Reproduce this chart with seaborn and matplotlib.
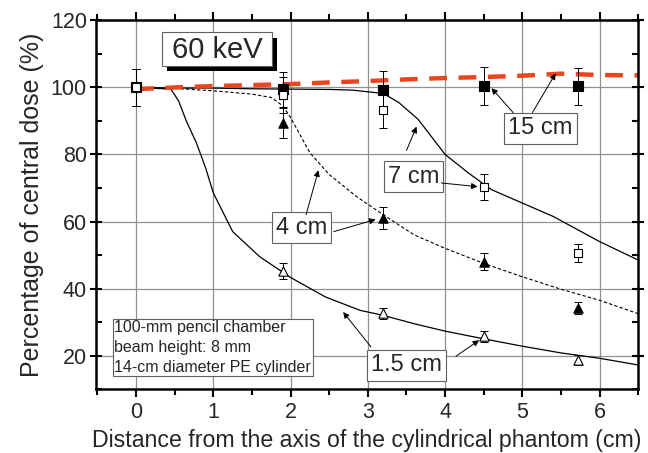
import numpy as np
import pandas as pd
import matplotlib
matplotlib.use("Agg")
import matplotlib.pyplot as plt
import seaborn as sns
from matplotlib.ticker import MultipleLocator
from matplotlib.patches import Rectangle

sns.set_theme(style="white")
plt.rcParams['font.family'] = ['Liberation Sans', 'DejaVu Sans']

# ---- measured points (markers) ----
meas_x = [0.0, 1.9, 3.2, 4.5, 5.72]
sq15 = [100.0, 99.4, 99.3, 100.5, 100.4]
sq15_err = [5.6, 5.3, 5.5, 5.6, 5.5]
sq7 = [100.0, 97.7, 93.2, 70.3, 50.6]
sq7_err = [5.6, 5.3, 5.2, 3.8, 2.8]
tri4 = [100.0, 89.5, 61.0, 48.0, 34.2]
tri4_err = [5.6, 4.5, 3.2, 2.5, 1.7]
tri15 = [100.0, 45.2, 32.6, 25.7, 18.7]
tri15_err = [5.6, 2.4, 1.7, 1.6, 1.4]

# ---- calculated curves ----
c15_x = [0, 0.5, 1, 1.5, 2, 2.5, 3, 3.5, 4, 4.5, 5, 5.5, 6, 6.5]
c15_y = [99.5, 100.0, 100.4, 100.7, 101.0, 101.5, 101.9, 102.4, 102.8, 103.1, 103.5, 104.1, 103.7, 103.6]

c7_x = [0, 0.5, 1, 1.5, 2, 2.5, 2.8, 3.2, 3.4, 3.65, 4.0, 4.3, 4.6, 5.0, 5.4, 5.8, 6.0, 6.5]
c7_y = [100, 99.8, 99.8, 99.6, 99.5, 99.4, 99.2, 98.2, 95.5, 90.5, 80.0, 74.5, 69.5, 65.5, 61.5, 56.5, 54.0, 48.5]

c4_x = [0, 0.5, 1, 1.5, 1.75, 1.9, 2.0, 2.25, 2.5, 2.85, 3.2, 3.6, 4, 4.5, 5, 5.5, 6, 6.5]
c4_y = [100, 99.7, 99.0, 98.0, 97.0, 94.5, 91.0, 80.5, 74.0, 67.5, 62.0, 56.0, 52.0, 47.5, 43.5, 39.8, 36.5, 32.5]

c1_x = [0, 0.45, 0.55, 0.65, 0.78, 0.9, 1.0, 1.25, 1.6, 2.0, 2.45, 2.9, 3.2, 3.6, 4, 4.5, 5, 5.5, 6, 6.5]
c1_y = [100, 99.5, 96.0, 90.0, 83.5, 76.0, 68.5, 57.0, 49.5, 43.3, 37.5, 33.5, 32.0, 29.5, 27.3, 25.0, 22.8, 20.8, 19.2, 17.2]

x_ticks = [0, 1, 2, 3, 4, 5, 6]
y_ticks = [20, 40, 60, 80, 100, 120]

fig = plt.figure(figsize=(6.48, 4.53), dpi=100)
ax = fig.add_axes([0.148, 0.141, 0.837, 0.814])

# grid
ax.set_axisbelow(True)
ax.grid(True, which='major', color='#909090', lw=0.9)

# curves
sns.lineplot(x=c1_x, y=c1_y, ax=ax, color='black', lw=0.9, sort=False)
sns.lineplot(x=c7_x, y=c7_y, ax=ax, color='black', lw=0.9, sort=False)
sns.lineplot(x=c4_x, y=c4_y, ax=ax, color='black', lw=0.8, sort=False,
             linestyle=(0, (3, 2)))
sns.lineplot(x=c15_x, y=c15_y, ax=ax, color='#e8461e', lw=3.2, sort=False,
             linestyle=(0, (4, 2.6)))

# error bars + markers
def pts(y, err, marker, face, s=45):
    ax.errorbar(meas_x, y, yerr=err, fmt='none', ecolor='black', elinewidth=0.7,
                capsize=3, capthick=0.7, zorder=3)
    sns.scatterplot(x=meas_x, y=y, ax=ax, marker=marker, s=s, color=face,
                    edgecolor='black', linewidth=0.8, zorder=4)

pts(tri4, tri4_err, '^', 'black')
pts(sq15, sq15_err, 's', 'black')
pts(tri15, tri15_err, '^', 'white')
pts(sq7, sq7_err, 's', 'white', s=40)

ax.set_xlim(-0.52, 6.5)
ax.set_ylim(10, 120)
ax.set_xticks(x_ticks)
ax.set_yticks(y_ticks)
ax.xaxis.set_minor_locator(MultipleLocator(0.5))
ax.yaxis.set_minor_locator(MultipleLocator(10))
ax.tick_params(which='both', direction='out', labelsize=15.5, top=True, right=True,
               bottom=True, left=True, color='black')
ax.tick_params(which='major', length=6, width=1.5)
ax.tick_params(which='minor', length=4, width=1.5)
ax.tick_params(axis='y', which='major', direction='inout', length=9, pad=2)
ax.tick_params(axis='y', which='minor', direction='in', length=4)
ax.tick_params(axis='y', which='both', right=True)
for s in ax.spines.values():
    s.set_color('black')
    s.set_linewidth(1.8)

ax.set_xlabel('Distance from the axis of the cylindrical phantom (cm)', fontsize=16.7, labelpad=4)
ax.set_ylabel('Percentage of central dose (%)', fontsize=18, labelpad=5)

# 60 keV box with shadow
ax.add_patch(Rectangle((0.40, 105.0), 1.42, 9.6, facecolor='black', edgecolor='none', zorder=5))
ax.add_patch(Rectangle((0.34, 106.4), 1.42, 10.0, facecolor='white', edgecolor='#606060',
                       lw=0.8, zorder=6))
ax.text(1.05, 111.3, '60 keV', fontsize=21, ha='center', va='center', zorder=7)

lab_bbox = dict(boxstyle='square,pad=0.18', fc='white', ec='#606060', lw=0.8)
ap = dict(arrowstyle='-|>', color='black', lw=0.7, mutation_scale=9, shrinkA=0, shrinkB=0)

ax.text(5.23, 87.8, '15 cm', fontsize=17, ha='center', va='center', bbox=lab_bbox, zorder=6)
ax.annotate('', xy=(4.6, 99.8), xytext=(4.88, 92.5), arrowprops=ap, zorder=6)
ax.annotate('', xy=(5.43, 104.2), xytext=(5.13, 92.5), arrowprops=ap, zorder=6)

ax.text(3.59, 73.4, '7 cm', fontsize=17, ha='center', va='center', bbox=lab_bbox, zorder=6)
ax.annotate('', xy=(3.63, 88.3), xytext=(3.5, 81.2), arrowprops=ap, zorder=6)
ax.annotate('', xy=(4.42, 70.4), xytext=(3.95, 71.5), arrowprops=ap, zorder=6)

ax.text(2.14, 58.2, '4 cm', fontsize=17, ha='center', va='center', bbox=lab_bbox, zorder=6)
ax.annotate('', xy=(2.36, 75.3), xytext=(2.2, 62.0), arrowprops=ap, zorder=6)
ax.annotate('', xy=(3.1, 60.6), xytext=(2.56, 57.0), arrowprops=ap, zorder=6)

ax.text(3.5, 17.1, '1.5 cm', fontsize=17, ha='center', va='center', bbox=lab_bbox, zorder=6)
ax.annotate('', xy=(2.68, 33.0), xytext=(3.04, 22.6), arrowprops=ap, zorder=6)
ax.annotate('', xy=(4.44, 24.6), xytext=(4.14, 19.8), arrowprops=ap, zorder=6)

ax.text(-0.28, 22.4, '100-mm pencil chamber\nbeam height: 8 mm\n14-cm diameter PE cylinder',
        fontsize=11.5, ha='left', va='center', linespacing=1.4, zorder=6,
        bbox=dict(boxstyle='square,pad=0.1', fc='white', ec='#606060', lw=0.8))

fig.savefig('out.png', dpi=100)
